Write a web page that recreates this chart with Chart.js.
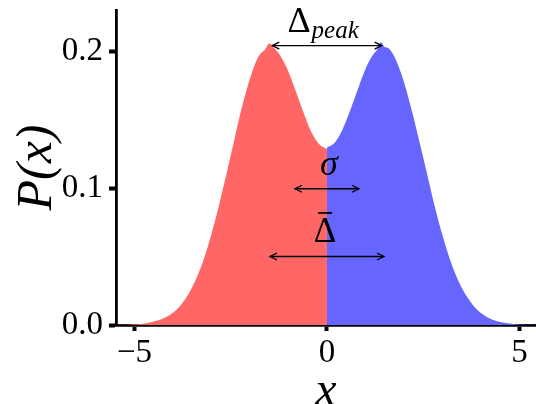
<!DOCTYPE html>
<html>
<head>
<meta charset="utf-8">
<script src="https://cdn.jsdelivr.net/npm/chart.js@4.4.1/dist/chart.umd.min.js"></script>
<style>
  html, body { margin: 0; padding: 0; background: #fff; }
  #chart { display: block; }
</style>
</head>
<body>
<canvas id="chart" width="536" height="404"></canvas>
<script>
// left half of the histogram (x <= 0)
const leftX = [-5.4, -5.2, -5.0, -4.8, -4.6, -4.4, -4.2, -4.0, -3.8, -3.6, -3.4, -3.2, -3.0, -2.8,
               -2.6, -2.4, -2.2, -2.0, -1.8, -1.6, -1.5, -1.4, -1.3, -1.2, -1.0, -0.8, -0.6, -0.4, -0.2, 0.0];
const leftP = [0.0001, 0.0002, 0.0005, 0.0010, 0.0018, 0.0032, 0.0054, 0.0090, 0.0145, 0.0225, 0.0335, 0.0480, 0.0665, 0.0880,
               0.1115, 0.1360, 0.1600, 0.1800, 0.1950, 0.2015, 0.2055, 0.2030, 0.2000, 0.1960, 0.1850, 0.1700, 0.1545, 0.1405, 0.1320, 0.1285];

// right half (x >= 0)
const rightX = [0.0, 0.2, 0.4, 0.6, 0.8, 1.0, 1.2, 1.3, 1.4, 1.5, 1.6, 1.8, 2.0, 2.2, 2.4, 2.6,
                2.8, 3.0, 3.2, 3.4, 3.6, 3.8, 4.0, 4.2, 4.4, 4.6, 4.8, 5.0, 5.2, 5.4];
const rightP = [0.1295, 0.1330, 0.1425, 0.1565, 0.1720, 0.1870, 0.1975, 0.2010, 0.2065, 0.2030, 0.2020, 0.1930, 0.1775, 0.1570, 0.1340, 0.1105,
                0.0865, 0.0655, 0.0475, 0.0330, 0.0222, 0.0143, 0.0088, 0.0052, 0.0030, 0.0017, 0.0009, 0.0004, 0.0002, 0.0001];

const xTicks = [-5, 0, 5];
const yTicks = [0.0, 0.1, 0.2];

// arrows in data units: [x start, x end, y]
const arrowPeak = [-1.42, 1.42, 0.204];
const arrowSigma = [-0.83, 0.83, 0.0995];
const arrowMean = [-1.48, 1.48, 0.05];

const serif = "'Liberation Serif', 'DejaVu Serif', serif";

function toPoints(xs, ys) {
    return xs.map((x, i) => ({ x: x, y: ys[i] }));
}

function drawArrow(ctx, x1, x2, y) {
    ctx.beginPath();
    ctx.moveTo(x1, y);
    ctx.lineTo(x2, y);
    ctx.stroke();
    const h = 7, w = 3.5;
    [[x1, 1], [x2, -1]].forEach(([x, d]) => {
        ctx.beginPath();
        ctx.moveTo(x + d * h, y - w);
        ctx.lineTo(x, y);
        ctx.lineTo(x + d * h, y + w);
        ctx.stroke();
    });
}

const annotations = {
    id: 'annotations',
    afterDatasetsDraw(chart) {
        const ctx = chart.ctx;
        const xs = chart.scales.x, ys = chart.scales.y;
        ctx.save();
        ctx.strokeStyle = '#000';
        ctx.fillStyle = '#000';
        ctx.lineWidth = 1.3;

        [arrowPeak, arrowSigma, arrowMean].forEach(a => {
            drawArrow(ctx, xs.getPixelForValue(a[0]), xs.getPixelForValue(a[1]), ys.getPixelForValue(a[2]));
        });

        ctx.textBaseline = 'alphabetic';
        ctx.textAlign = 'left';

        // Delta_peak
        ctx.font = '36px ' + serif;
        const dW = ctx.measureText('\u0394').width;
        ctx.font = 'italic 25px ' + serif;
        const pW = ctx.measureText('peak').width;
        let cx = xs.getPixelForValue(-0.1);
        let by = ys.getPixelForValue(0.214);
        let sx = cx - (dW + pW + 1) / 2;
        ctx.font = '36px ' + serif;
        ctx.fillText('\u0394', sx, by);
        ctx.font = 'italic 25px ' + serif;
        ctx.fillText('peak', sx + dW + 1, by + 6);

        // sigma
        ctx.textAlign = 'center';
        ctx.font = 'italic 36px ' + serif;
        ctx.fillText('\u03c3', xs.getPixelForValue(0.05), ys.getPixelForValue(0.1095));

        // Delta bar
        ctx.font = '35px ' + serif;
        cx = xs.getPixelForValue(-0.05);
        by = ys.getPixelForValue(0.0606);
        ctx.fillText('\u0394', cx, by);
        ctx.fillRect(cx - 7, by - 30, 14, 1.8);
        ctx.restore();
    }
};

new Chart(document.getElementById('chart'), {
    type: 'line',
    data: {
        datasets: [
            {
                data: toPoints(leftX, leftP),
                borderWidth: 0,
                pointRadius: 0,
                fill: 'origin',
                backgroundColor: 'rgb(255, 102, 102)',
                borderColor: 'rgba(0,0,0,0)',
                cubicInterpolationMode: 'monotone'
            },
            {
                data: toPoints(rightX, rightP),
                borderWidth: 0,
                pointRadius: 0,
                fill: 'origin',
                backgroundColor: 'rgb(102, 102, 255)',
                borderColor: 'rgba(0,0,0,0)',
                cubicInterpolationMode: 'monotone'
            }
        ]
    },
    options: {
        responsive: false,
        animation: false,
        layout: { padding: { top: 10, right: 0, left: 0, bottom: 0 } },
        plugins: {
            legend: { display: false },
            tooltip: { enabled: false }
        },
        scales: {
            x: {
                type: 'linear',
                min: -5.48,
                max: 5.43,
                afterBuildTicks: s => { s.ticks = xTicks.map(v => ({ value: v })); },
                afterFit: s => { s.height = 79; s.paddingLeft = 0; s.paddingRight = 0; },
                ticks: {
                    callback: v => v < 0 ? '\u2212' + Math.abs(v) : String(v),
                    font: { family: serif, size: 33 },
                    color: '#000',
                    padding: 3,
                    maxRotation: 0,
                    autoSkip: false
                },
                grid: { display: true, drawOnChartArea: false, drawTicks: true, tickLength: 6, tickWidth: 4, tickColor: '#000' },
                border: { display: true, color: '#000', width: 2.8 },
                title: { display: true, text: 'x', color: '#000', padding: 0,
                         font: { family: serif, size: 48, style: 'italic', lineHeight: 0.5 } }
            },
            y: {
                min: 0,
                max: 0.23,
                afterBuildTicks: s => { s.ticks = yTicks.map(v => ({ value: v })); },
                afterFit: s => { s.width = 116; s.paddingTop = 0; s.paddingBottom = 0; },
                ticks: {
                    callback: v => v.toFixed(1),
                    font: { family: serif, size: 33 },
                    color: '#000',
                    padding: 6
                },
                grid: { display: true, drawOnChartArea: false, drawTicks: true, tickLength: 7, tickWidth: 4, tickColor: '#000' },
                border: { display: true, color: '#000', width: 2.8 },
                title: { display: true, text: 'P(x)', color: '#000', padding: { top: 8, bottom: 0 },
                         font: { family: serif, size: 50, style: 'italic', lineHeight: 1.2 } }
            }
        }
    },
    plugins: [annotations]
});
</script>
</body>
</html>
